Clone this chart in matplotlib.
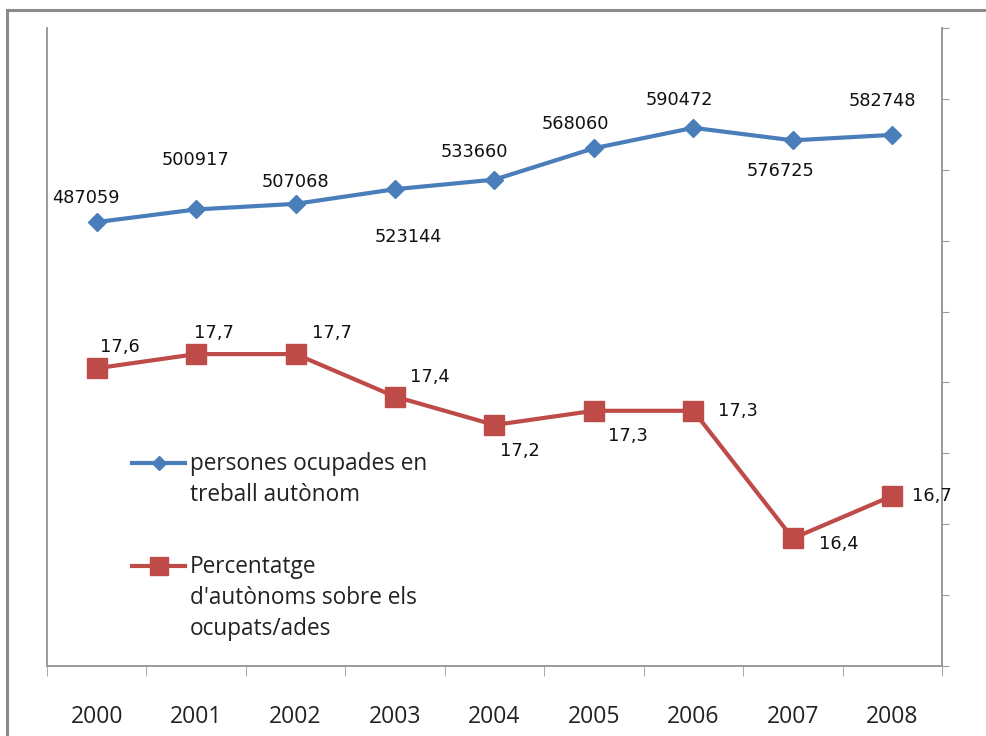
import numpy as np
import matplotlib.pyplot as plt
from matplotlib.patches import Rectangle
from matplotlib.lines import Line2D

# Dades
anys = ['2000', '2001', '2002', '2003', '2004', '2005', '2006', '2007', '2008']
persones = [487059, 500917, 507068, 523144, 533660, 568060, 590472, 576725, 582748]
percentatge = [17.6, 17.7, 17.7, 17.4, 17.2, 17.3, 17.3, 16.4, 16.7]
etiqueta_persones = 'persones ocupades en\ntreball autònom'
etiqueta_percentatge = "Percentatge\nd'autònoms sobre els\nocupats/ades"

# desplaçaments de les etiquetes (pixels)
off_blau = [(-11, 24), (-1, 49), (0, 22), (13, -48), (-20, 28),
            (-19, 24), (-14, 28), (-12, -31), (-10, 34)]
off_verm = [(23, 21), (18, 21), (36, 21), (35, 20), (25, -26),
            (34, -25), (44, 0), (46, -6), (40, 0)]

blau = '#4a7ebb'
verm = '#be4b48'
gris = '#9a9a9a'
font = 'Open Sans'

W, H = 986, 736
fig = plt.figure(figsize=(W / 100, H / 100), dpi=100)
fig.patch.set_facecolor('white')

# marc exterior
fig.add_artist(Rectangle((7 / W, -0.1), 1.2, 1 - 10 / H + 0.1, transform=fig.transFigure,
                         fill=False, edgecolor='#8a8a8a', linewidth=2.2))

ax = fig.add_axes([47 / W, 1 - 666 / H, 895 / W, 638 / H])
ax2 = ax.twinx()

x = np.arange(len(anys))
ax.plot(x, persones, color=blau, lw=3, marker='D', ms=9, zorder=3)
ax2.plot(x, percentatge, color=verm, lw=3, marker='s', ms=14, zorder=3)

ax.set_ylim(0, 700000)
ax2.set_ylim(15.5, 20)
ax.set_xlim(-0.5, len(anys) - 0.5)

for xi, v, (dx, dy) in zip(x, persones, off_blau):
    ax.annotate(str(v), (xi, v), xytext=(dx, dy), textcoords='offset pixels',
                ha='center', va='center', fontsize=12.8, family='DejaVu Sans', color='#111111')
for xi, v, (dx, dy) in zip(x, percentatge, off_verm):
    ax2.annotate(f'{v:.1f}'.replace('.', ','), (xi, v), xytext=(dx, dy), textcoords='offset pixels',
                 ha='center', va='center', fontsize=12.8, family='DejaVu Sans', color='#111111')

# eixos
for a in (ax, ax2):
    a.spines['top'].set_visible(False)
    for s in ('left', 'right', 'bottom'):
        a.spines[s].set_color(gris)
        a.spines[s].set_linewidth(1.2)
ax.set_yticks([])
ax2.set_yticks(np.arange(15.5, 20.01, 0.5))
ax2.tick_params(axis='y', length=5, color=gris, labelright=False)

ax.set_xticks(x)
ax.set_xticklabels(anys, family=font, fontsize=16.5, color='#222222')
ax.tick_params(axis='x', length=0, pad=28)
ax.set_xticks(np.arange(-0.5, len(anys), 1), minor=True)
ax.tick_params(axis='x', which='minor', length=7, color=gris)

# llegenda
def entrada(y, color, marker, ms, text):
    fig.add_artist(Line2D([132 / W, 185 / W], [1 - y / H] * 2, color=color, lw=3,
                          transform=fig.transFigure))
    fig.add_artist(Line2D([158.5 / W], [1 - y / H], color=color, marker=marker, ms=ms,
                          transform=fig.transFigure))
    fig.text(190 / W, 1 - (y - 11) / H, text, ha='left', va='top', family=font,
             fontsize=16.3, color='#222222', linespacing=1.38)

entrada(463, blau, 'D', 7.5, etiqueta_persones)
entrada(566, verm, 's', 13, etiqueta_percentatge)

fig.savefig('out.png', dpi=100)
